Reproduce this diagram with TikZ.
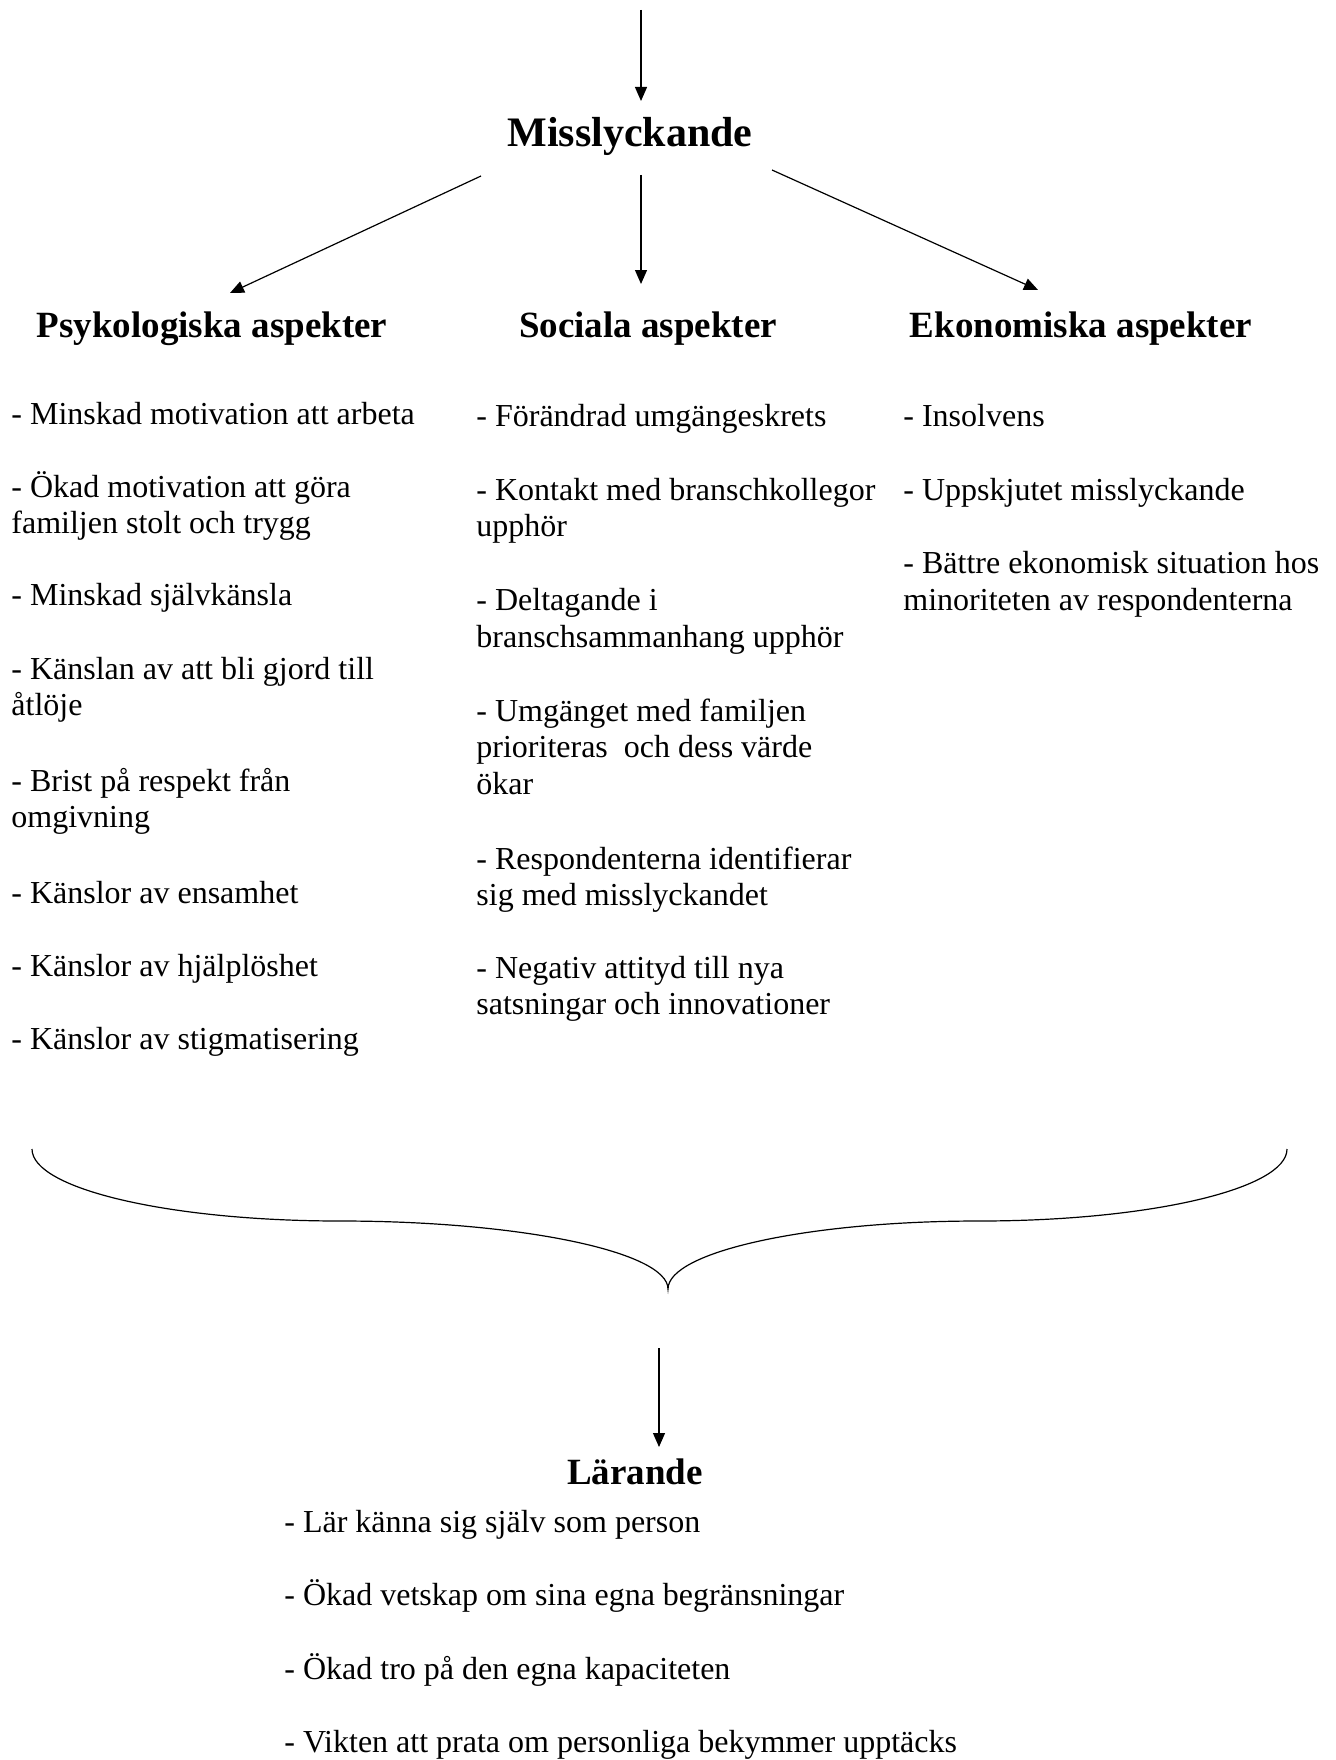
\documentclass[tikz,border=0pt]{standalone}
\usepackage{fontspec}
\setmainfont{Liberation Serif}
\usetikzlibrary{arrows.meta}
\begin{document}
\begin{tikzpicture}[x=0.5pt,y=-0.5pt,
  body/.style={anchor=base west,inner sep=0pt,font=\fontsize{16}{19}\selectfont},
  head/.style={anchor=base,inner sep=0pt,font=\fontsize{18.5}{22}\selectfont\bfseries},
  ttl/.style={anchor=base,inner sep=0pt,font=\fontsize{21}{25}\selectfont\bfseries},
  conn/.style={line width=0.6pt,-{Triangle[length=7pt,width=6pt]}},
  bracestyle/.style={line width=0.6pt}]
\useasboundingbox (0,0) rectangle (1335,1760);

% titles
\node[ttl] (miss) at (630,147) {Misslyckande};
\node[head] (psy) at (212,337) {Psykologiska aspekter};
\node[head] (soc) at (648,337) {Sociala aspekter};
\node[head] (eko) at (1081,337) {Ekonomiska aspekter};
\node[head] (lar) at (635,1484) {Lärande};

% connector end points
\coordinate (topstart) at (641,10);
\coordinate (topend) at (641,101);
\coordinate (ls) at (481,176);
\coordinate (le) at (230,293);
\coordinate (ms) at (641,175);
\coordinate (me) at (641,284);
\coordinate (rs) at (772,170);
\coordinate (re) at (1038,290);
\coordinate (bs) at (659,1348);
\coordinate (be) at (659,1447);

\draw[conn] (topstart) -- (topend);
\draw[conn] (ls) -- (le);
\draw[conn] (ms) -- (me);
\draw[conn] (rs) -- (re);
\draw[conn] (bs) -- (be);

% brace
\coordinate (bl) at (32,1149);
\coordinate (bfl) at (340,1221);
\coordinate (btip) at (668,1289);
\coordinate (bfr) at (979,1221);
\coordinate (br) at (1287,1149);
\draw[bracestyle] (bl) .. controls (32,1189) and (170,1221) .. (bfl)
  .. controls (521,1221) and (668,1252) .. (btip)
  .. controls (668,1252) and (807,1221) .. (bfr)
  .. controls (1149,1221) and (1287,1189) .. (br);

% column 1
\node[body] (p1) at (11,424) {- Minskad motivation att arbeta};
\node[body] (p2a) at (11,497) {- Ökad motivation att göra};
\node[body] (p2b) at (11,533) {familjen stolt och trygg};
\node[body] (p3) at (11,605) {- Minskad självkänsla};
\node[body] (p4a) at (11,679) {- Känslan av att bli gjord till};
\node[body] (p4b) at (11,715) {åtlöje};
\node[body] (p5a) at (11,791) {- Brist på respekt från};
\node[body] (p5b) at (11,827) {omgivning};
\node[body] (p6) at (11,903) {- Känslor av ensamhet};
\node[body] (p7) at (11,976) {- Känslor av hjälplöshet};
\node[body] (p8) at (11,1049) {- Känslor av stigmatisering};

% column 2
\node[body] (s1) at (476,426) {- Förändrad umgängeskrets};
\node[body] (s2a) at (476,500) {- Kontakt med branschkollegor};
\node[body] (s2b) at (476,536) {upphör};
\node[body] (s3a) at (476,610) {- Deltagande i};
\node[body] (s3b) at (476,647) {branschsammanhang upphör};
\node[body] (s4a) at (476,721) {- Umgänget med familjen};
\node[body] (s4b) at (476,757) {prioriteras\ \ och dess värde};
\node[body] (s4c) at (476,794) {ökar};
\node[body] (s5a) at (476,869) {- Respondenterna identifierar};
\node[body] (s5b) at (476,905) {sig med misslyckandet};
\node[body] (s6a) at (476,978) {- Negativ attityd till nya};
\node[body] (s6b) at (476,1014) {satsningar och innovationer};

% column 3
\node[body] (e1) at (903,426) {- Insolvens};
\node[body] (e2) at (903,500) {- Uppskjutet misslyckande};
\node[body] (e3a) at (903,573) {- Bättre ekonomisk situation hos};
\node[body] (e3b) at (903,610) {minoriteten av respondenterna};

% learning
\node[body] (l1) at (284,1532) {- Lär känna sig själv som person};
\node[body] (l2) at (284,1605) {- Ökad vetskap om sina egna begränsningar};
\node[body] (l3) at (284,1679) {- Ökad tro på den egna kapaciteten};
\node[body] (l4) at (284,1752) {- Vikten att prata om personliga bekymmer upptäcks};
\end{tikzpicture}
\end{document}
